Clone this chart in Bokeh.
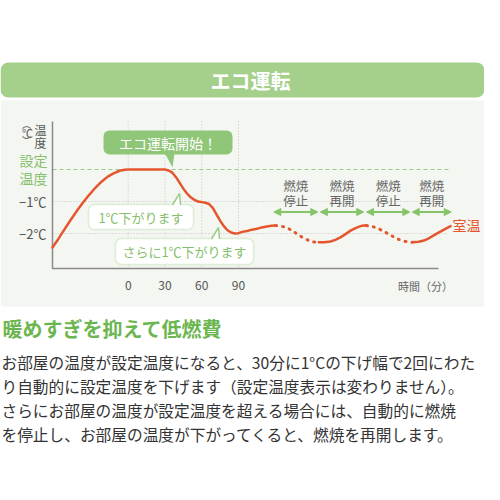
from bokeh.plotting import figure
from bokeh.models import Range1d, BoxAnnotation, Arrow, NormalHead
from bokeh.core.properties import value
from bokeh.embed import file_html
from bokeh.resources import INLINE

# ---------------- data ----------------
title_text = "エコ運転"
min_ticks = [0, 30, 60, 90]
min_labels = ["0", "30", "60", "90"]
temp_ticks = [-1, -2]
temp_labels = ["−1℃", "−2℃"]
setpoint_temp = 0
setpoint_label = ["設定", "温度"]
x_title = "時間（分）"
series_label = "室温"

# room temperature: eco operation phase (solid)
eco_min = [-61.8, -57, -52, -47, -42, -37, -32, -27, -22, -17, -12, -7, -3, 0, 30,
           33, 36, 39, 42, 45, 48, 51, 54, 57, 60, 63, 66, 69, 72, 75, 78, 81, 84,
           87, 90, 93, 97, 101, 105, 109, 113, 117, 120.3]
eco_temp = [-2.44, -2.17, -1.87, -1.58, -1.30, -1.04, -0.80, -0.58, -0.39, -0.23,
            -0.12, -0.04, -0.01, 0, 0, -0.03, -0.10, -0.24, -0.42, -0.60, -0.75,
            -0.87, -0.95, -1.00, -1.02, -1.04, -1.08, -1.20, -1.40, -1.60, -1.77,
            -1.90, -1.97, -2.00, -1.99, -1.95, -1.92, -1.88, -1.85, -1.81, -1.78,
            -1.76, -1.75]
# combustion stopped (dotted)
stop1_min = [120.3, 124.3, 127.7, 131, 136.5, 142, 147.4, 150.5, 152.8, 155.5]
stop1_temp = [-1.75, -1.77, -1.80, -1.85, -1.98, -2.12, -2.22, -2.26, -2.27, -2.27]
# combustion resumed (solid)
resume1_min = [155.5, 160, 165, 169, 173.2, 177.3, 181.4, 185.5, 189.5, 192, 194.4]
resume1_temp = [-2.27, -2.27, -2.25, -2.20, -2.12, -2.02, -1.91, -1.83, -1.77, -1.75, -1.75]
stop2_min = [194.4, 197.7, 201.7, 205.8, 212.6, 219.5, 226.3, 229.5, 231.7]
stop2_temp = [-1.75, -1.77, -1.81, -1.88, -2.02, -2.17, -2.25, -2.27, -2.27]
resume2_min = [231.7, 237, 241.2, 245.3, 249.3, 252.8, 256.2, 259.6, 263]
resume2_temp = [-2.27, -2.26, -2.22, -2.15, -2.06, -1.98, -1.91, -1.84, -1.77]

# burner phases (arrows)
phase_start = [118.8, 156.8, 194.4, 231.7]
phase_end = [154.7, 192.2, 229.8, 263.5]
phase_top = ["燃焼", "燃焼", "燃焼", "燃焼"]
phase_bottom = ["停止", "再開", "停止", "再開"]
phase_arrow_temp = -1.33

callout_texts = ["エコ運転開始！", "1℃下がります", "さらに1℃下がります"]

heading = "暖めすぎを抑えて低燃費"
paragraph = [
    "お部屋の温度が設定温度になると、30分に1°Cの下げ幅で2回にわた",
    "り自動的に設定温度を下げます（設定温度表示は変わりません）。",
    "さらにお部屋の温度が設定温度を超える場合には、自動的に燃焼",
    "を停止し、お部屋の温度が下がってくると、燃焼を再開します。",
]

# ---------------- styles ----------------
FONT = value("Noto Sans CJK JP")
GREEN_BANNER = "#a5d08c"
GREEN_FILL = "#8fc678"
GREEN_LINE = "#9ccd88"
GREEN_TEXT = "#86bf6e"
GREEN_HEAD = "#6cb650"
CURVE = "#e4572e"
GRID = "#c4c4c4"
AXIS = "#8a8a8a"
LABEL = "#555555"

W = 484
p = figure(width=W, height=W, x_range=Range1d(0, W), y_range=Range1d(W, 0),
           x_axis_type=None, y_axis_type=None, output_backend="svg",
           toolbar_location=None, min_border=0)
p.extra_x_ranges = {"min": Range1d(-104.2, 290.7)}
p.extra_y_ranges = {"temp": Range1d(-9.844, 5.281)}
p.outline_line_color = None
p.background_fill_color = "white"
p.border_fill_color = "white"

# banner
p.add_layout(BoxAnnotation(left=0, right=W, top=62, bottom=97, fill_color=GREEN_BANNER,
                           fill_alpha=1, line_color=None, border_radius=8, level="underlay"))
p.text(x=[250], y=[80], text=[title_text], text_font=FONT, text_font_size="20px",
       text_font_style="bold", text_color="white", text_align="center",
       text_baseline="middle")

# chart background
p.quad(left=[0], right=[W], top=[100], bottom=[306], fill_color="#f4f6f1", line_color=None)

# grid
p.segment(x0=min_ticks, y0=[121] * 4, x1=min_ticks, y1=[268] * 4, x_range_name="min",
          line_color=GRID, line_dash="1 2", line_width=1)
p.segment(x0=[52] * 2, y0=temp_ticks, x1=[448] * 2, y1=temp_ticks, y_range_name="temp",
          line_color=GRID, line_dash="1 2", line_width=1)
p.segment(x0=[52], y0=[setpoint_temp], x1=[448], y1=[setpoint_temp], y_range_name="temp",
          line_color=GREEN_LINE, line_dash="4 3", line_width=1.2)

# axes
p.line(x=[52, 52, 438], y=[121, 268, 268], line_color=AXIS, line_width=1.5)

# tick labels
p.text(x=min_ticks, y=[285] * 4, text=min_labels, x_range_name="min", text_font=FONT,
       text_font_size="12px", text_color=LABEL, text_align="center", text_baseline="middle")
p.text(x=[46] * 2, y=temp_ticks, text=temp_labels, y_range_name="temp", text_font=FONT,
       text_font_size="13px", text_color=LABEL, text_align="right", text_baseline="middle")
p.text(x=[33], y=[setpoint_temp], text=[setpoint_label[0]], y_range_name="temp",
       y_offset=-9, text_font=FONT, text_font_size="14px", text_color=GREEN_TEXT,
       text_align="center", text_baseline="middle")
p.text(x=[33], y=[setpoint_temp], text=[setpoint_label[1]], y_range_name="temp",
       y_offset=9, text_font=FONT, text_font_size="14px", text_color=GREEN_TEXT,
       text_align="center", text_baseline="middle")
p.text(x=[27], y=[132], text=["℃"], text_font=FONT, text_font_size="11px",
       text_color=LABEL, text_align="center", text_baseline="middle")
p.text(x=[26, 26], y=[124, 140], text=["︵", "︶"], text_font=FONT, text_font_size="9px",
       text_color=LABEL, text_align="center", text_baseline="middle")
p.text(x=[40, 40], y=[129, 142], text=["温", "度"], text_font=FONT, text_font_size="12px",
       text_color=LABEL, text_align="center", text_baseline="middle")
p.text(x=[425], y=[285], text=[x_title], text_font=FONT, text_font_size="11px",
       text_color="#666666", text_align="center", text_baseline="middle")

# temperature curve
kw = dict(x_range_name="min", y_range_name="temp", line_color=CURVE, line_cap="round",
          line_join="round")
p.line(eco_min, eco_temp, line_width=2.5, **kw)
p.line(resume1_min, resume1_temp, line_width=2.5, **kw)
p.line(resume2_min, resume2_temp, line_width=2.5, **kw)
p.line(stop1_min, stop1_temp, line_width=3, line_dash="1 6", **kw)
p.line(stop2_min, stop2_temp, line_width=3, line_dash="1 6", **kw)
p.text(x=[452], y=[224], text=[series_label], text_font=FONT, text_font_size="14px",
       text_color=CURVE, text_align="left", text_baseline="middle")

# phase arrows and labels
for s, e in zip(phase_start, phase_end):
    p.add_layout(Arrow(x_start=s, y_start=phase_arrow_temp, x_end=e, y_end=phase_arrow_temp,
                       x_range_name="min", y_range_name="temp", line_color="#86c46a",
                       line_width=2,
                       start=NormalHead(size=7, fill_color="#86c46a", line_color="#86c46a"),
                       end=NormalHead(size=7, fill_color="#86c46a", line_color="#86c46a")))
mids = [(s + e) / 2 for s, e in zip(phase_start, phase_end)]
p.text(x=mids, y=[185] * 4, text=phase_top, x_range_name="min", text_font=FONT,
       text_font_size="12.5px", text_color="#666666", text_align="center",
       text_baseline="middle")
p.text(x=mids, y=[200] * 4, text=phase_bottom, x_range_name="min", text_font=FONT,
       text_font_size="12.5px", text_color="#666666", text_align="center",
       text_baseline="middle")

# callouts
p.add_layout(BoxAnnotation(left=103, right=232, top=130, bottom=154, fill_color=GREEN_FILL,
                           fill_alpha=1, line_color=None, border_radius=6))
p.patch(x=[164, 174, 172], y=[152, 152, 167], fill_color=GREEN_FILL, line_color=None,
        level="overlay")
p.text(x=[167.5], y=[142], text=[callout_texts[0]], text_font=FONT, text_font_size="14px",
       text_color="white", text_align="center", text_baseline="middle", level="overlay")

p.add_layout(BoxAnnotation(left=88, right=193, top=204, bottom=229, fill_color="white",
                           fill_alpha=1, line_color=GREEN_LINE, line_width=1.5,
                           border_radius=6))
p.patch(x=[172, 180.5, 179], y=[205.5, 205.5, 193], fill_color="white", line_color=None,
        level="overlay")
p.multi_line(xs=[[172, 179, 180]], ys=[[204.5, 193, 204.5]], line_color=GREEN_LINE,
             line_width=1.5, level="overlay")
p.text(x=[140.5], y=[216.5], text=[callout_texts[1]], text_font=FONT, text_font_size="13px",
       text_color=GREEN_TEXT, text_align="center", text_baseline="middle", level="overlay")

p.add_layout(BoxAnnotation(left=115, right=253, top=238, bottom=264, fill_color="white",
                           fill_alpha=1, line_color=GREEN_LINE, line_width=1.5,
                           border_radius=6))
p.patch(x=[211, 219.5, 218], y=[239.5, 239.5, 227], fill_color="white", line_color=None,
        level="overlay")
p.multi_line(xs=[[211, 218, 219]], ys=[[238.5, 227, 238.5]], line_color=GREEN_LINE,
             line_width=1.5, level="overlay")
p.text(x=[184], y=[251], text=[callout_texts[2]], text_font=FONT, text_font_size="13px",
       text_color=GREEN_TEXT, text_align="center", text_baseline="middle", level="overlay")

# heading and paragraph
p.text(x=[2], y=[328], text=[heading], text_font=FONT, text_font_size="20px",
       text_font_style="bold", text_color=GREEN_HEAD, text_align="left",
       text_baseline="middle")
p.text(x=[1] * 4, y=[361.5, 385.5, 409.5, 433.5], text=paragraph, text_font=FONT,
       text_font_size="15.7px", text_color="#333333", text_align="left",
       text_baseline="middle")

open("out.html", "w").write(file_html(p, INLINE))
